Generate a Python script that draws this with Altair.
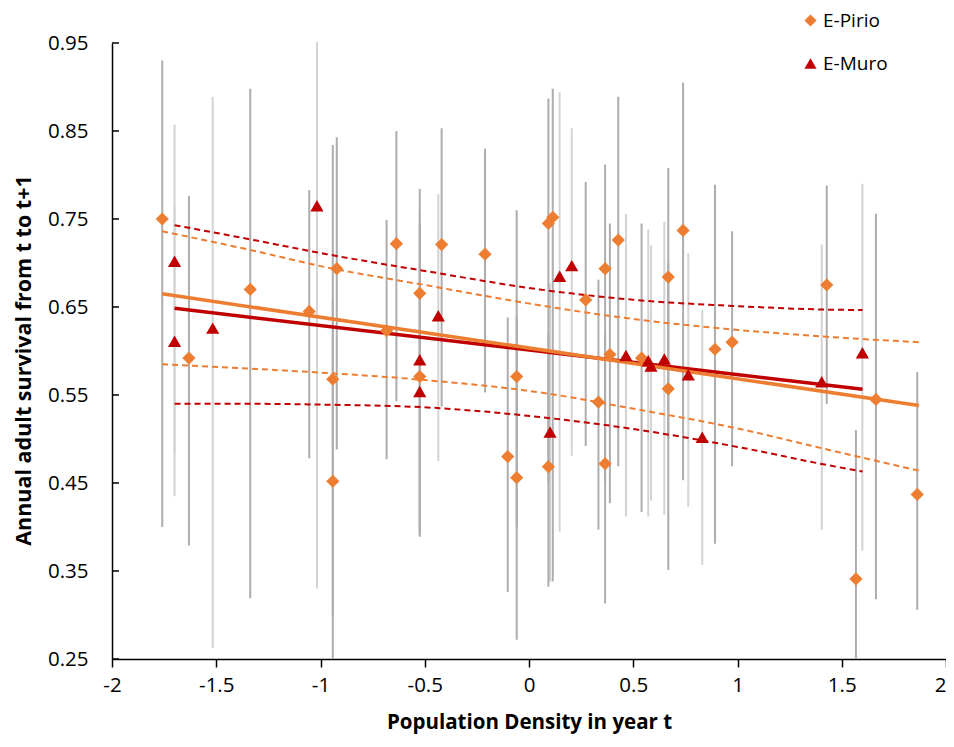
import altair as alt
import pandas as pd

# ---------------- data ----------------
pirio_x = [-1.759, -1.631, -1.337, -1.054, -0.922, -0.941, -0.941, -0.683, -0.636, -0.524,
           -0.524, -0.419, -0.211, -0.102, -0.059, -0.059, 0.093, 0.114, 0.093, 0.272,
           0.333, 0.365, 0.365, 0.388, 0.428, 0.540, 0.668, 0.668, 0.739, 0.892,
           0.974, 1.428, 1.568, 1.664, 1.862]
pirio_y = [0.750, 0.592, 0.670, 0.645, 0.6935, 0.568, 0.452, 0.623, 0.722, 0.6655,
           0.571, 0.721, 0.710, 0.480, 0.571, 0.456, 0.745, 0.752, 0.4685, 0.658,
           0.542, 0.6935, 0.472, 0.596, 0.726, 0.592, 0.684, 0.557, 0.737, 0.602,
           0.610, 0.675, 0.341, 0.545, 0.437]
pirio_lo = [0.400, 0.379, 0.319, 0.478, 0.488, 0.300, 0.250, 0.477, 0.543, 0.389,
            0.395, 0.537, 0.553, 0.326, 0.400, 0.272, 0.450, 0.338, 0.332, 0.492,
            0.397, 0.450, 0.313, 0.427, 0.469, 0.417, 0.500, 0.351, 0.453, 0.381,
            0.469, 0.540, 0.250, 0.318, 0.306]
pirio_hi = [0.930, 0.776, 0.898, 0.783, 0.843, 0.834, 0.660, 0.749, 0.850, 0.784,
            0.745, 0.853, 0.830, 0.638, 0.760, 0.640, 0.887, 0.898, 0.620, 0.792,
            0.681, 0.812, 0.620, 0.745, 0.889, 0.745, 0.808, 0.700, 0.905, 0.789,
            0.736, 0.788, 0.510, 0.756, 0.576]

muro_x = [-1.700, -1.700, -1.517, -1.017, -0.524, -0.524, -0.435, 0.101, 0.147, 0.205,
          0.465, 0.572, 0.585, 0.649, 0.764, 0.831, 1.404, 1.599]
muro_y = [0.702, 0.611, 0.626, 0.765, 0.590, 0.554, 0.640, 0.508, 0.685, 0.697,
          0.595, 0.589, 0.583, 0.591, 0.573, 0.502, 0.565, 0.598]
muro_lo = [0.435, 0.484, 0.2625, 0.330, 0.400, 0.390, 0.475, 0.338, 0.395, 0.481,
           0.412, 0.412, 0.430, 0.414, 0.423, 0.357, 0.397, 0.373]
muro_hi = [0.857, 0.764, 0.889, 0.951, 0.760, 0.700, 0.778, 0.677, 0.894, 0.853,
           0.756, 0.738, 0.720, 0.747, 0.711, 0.647, 0.721, 0.790]

# regression lines (end points)
pirio_fit_x = [-1.76, 1.87]
pirio_fit_y = [0.665, 0.538]
muro_fit_x = [-1.70, 1.60]
muro_fit_y = [0.6485, 0.5565]

# confidence bands
pirio_band_x = [-1.76, -1.34, -0.97, -0.50, 0.05, 0.51, 1.00, 1.44, 1.87]
pirio_band_up = [0.736, 0.715, 0.695, 0.675, 0.652, 0.636, 0.624, 0.616, 0.610]
pirio_band_lo = [0.585, 0.580, 0.575, 0.567, 0.553, 0.534, 0.512, 0.4875, 0.464]
muro_band_x = [-1.70, -1.34, -0.97, -0.50, 0.05, 0.51, 1.00, 1.44, 1.60]
muro_band_up = [0.743, 0.727, 0.710, 0.691, 0.670, 0.658, 0.651, 0.647, 0.6466]
muro_band_lo = [0.540, 0.540, 0.539, 0.536, 0.525, 0.511, 0.491, 0.470, 0.463]

series_names = ["E-Pirio", "E-Muro"]
x_ticks = [-2, -1.5, -1, -0.5, 0, 0.5, 1, 1.5, 2]
y_ticks = [0.25, 0.35, 0.45, 0.55, 0.65, 0.75, 0.85, 0.95]

ORANGE = "#ED7D31"
RED = "#C00000"
FONT = "Open Sans"

# ---------------- tables ----------------
pts = pd.concat([
    pd.DataFrame({"x": pirio_x, "y": pirio_y, "lo": pirio_lo, "hi": pirio_hi, "series": "E-Pirio"}),
    pd.DataFrame({"x": muro_x, "y": muro_y, "lo": muro_lo, "hi": muro_hi, "series": "E-Muro"}),
], ignore_index=True)
pirio_df = pts[pts.series == "E-Pirio"]
muro_df = pts[pts.series == "E-Muro"]

pfit = pd.DataFrame({"x": pirio_fit_x, "y": pirio_fit_y})
mfit = pd.DataFrame({"x": muro_fit_x, "y": muro_fit_y})
pup = pd.DataFrame({"x": pirio_band_x, "y": pirio_band_up})
plo = pd.DataFrame({"x": pirio_band_x, "y": pirio_band_lo})
mup = pd.DataFrame({"x": muro_band_x, "y": muro_band_up})
mlo = pd.DataFrame({"x": muro_band_x, "y": muro_band_lo})
yt = pd.DataFrame({"v": y_ticks})

xscale = alt.Scale(domain=[-2, 2], nice=False, zero=False)
yscale = alt.Scale(domain=[0.25, 0.95], nice=False, zero=False)

xaxis = alt.Axis(
    values=x_ticks, labelExpr="datum.value + ''", grid=False, labelFlush=False,
    labelAlign={"condition": {"test": "datum.value == 2", "value": "right"}, "value": "center"},
    domainColor="black", domainWidth=1.5, tickColor="black", tickWidth=1.5, tickSize=8,
    labelFont=FONT, labelFontSize=20.5, labelColor="black", labelPadding=8,
    title="Population Density in year t", titleFont=FONT, titleFontSize=20.5,
    titleFontWeight="bold", titleColor="black",
    titleX=417, titleY=69, titleBaseline="alphabetic", titleAnchor="middle",
)
yaxis = alt.Axis(
    values=y_ticks, format=".2f", grid=False,
    domainColor="black", domainWidth=1.5, ticks=True, tickSize=0,
    labelFont=FONT, labelFontSize=20.5, labelColor="black", labelPadding=24,
    title="Annual adult survival from t to t+1", titleFont=FONT, titleFontSize=21.5,
    titleFontWeight="bold", titleColor="black",
    titleX=-88, titleY=317, titleBaseline="middle", titleAnchor="middle",
)

X = alt.X("x:Q", scale=xscale, axis=xaxis)
Y = alt.Y("y:Q", scale=yscale, axis=yaxis)

bars_m = alt.Chart(muro_df).mark_rule(color="#d3d3d3", strokeWidth=2).encode(
    x=alt.X("x:Q", scale=xscale), y=alt.Y("lo:Q", scale=yscale), y2="hi:Q")
bars_p = alt.Chart(pirio_df).mark_rule(color="#aeacac", strokeWidth=2).encode(
    x=alt.X("x:Q", scale=xscale), y=alt.Y("lo:Q", scale=yscale), y2="hi:Q")

def dashed(df, color):
    return alt.Chart(df).mark_line(color=color, strokeWidth=2, strokeDash=[6, 4],
                                   interpolate="monotone").encode(
        x=alt.X("x:Q", scale=xscale), y=alt.Y("y:Q", scale=yscale))

def solid(df, color):
    return alt.Chart(df).mark_line(color=color, strokeWidth=3.5).encode(
        x=alt.X("x:Q", scale=xscale), y=alt.Y("y:Q", scale=yscale))

yticks_in = alt.Chart(yt).mark_rule(color="black", strokeWidth=1.5).encode(
    y=alt.Y("v:Q", scale=yscale), x=alt.value(0), x2=alt.value(7))

points = alt.Chart(pts).mark_point(filled=True, opacity=1, size=175).encode(
    x=X, y=Y,
    color=alt.Color("series:N", scale=alt.Scale(domain=series_names, range=[ORANGE, RED]),
                    legend=alt.Legend(title=None)),
    shape=alt.Shape("series:N", scale=alt.Scale(domain=series_names, range=["diamond", "triangle-up"]),
                    legend=alt.Legend(title=None)),
)

chart = alt.layer(
    bars_m, bars_p,
    dashed(mup, RED), dashed(mlo, RED), dashed(pup, ORANGE), dashed(plo, ORANGE),
    solid(mfit, RED), solid(pfit, ORANGE),
    yticks_in, points,
).properties(
    width=834, height=616,
    autosize=alt.AutoSizeParams(type="none"),
    padding={"left": 104, "top": 35, "right": 0, "bottom": 76},
).configure_view(strokeWidth=0).configure_legend(
    orient="none", legendX=689, legendY=-32,
    labelFont=FONT, labelFontSize=19, labelColor="black",
    symbolSize=150, symbolStrokeWidth=0, rowPadding=23, labelOffset=3,
)

chart.save("out.html", embed_options={"renderer": "svg", "actions": False})
